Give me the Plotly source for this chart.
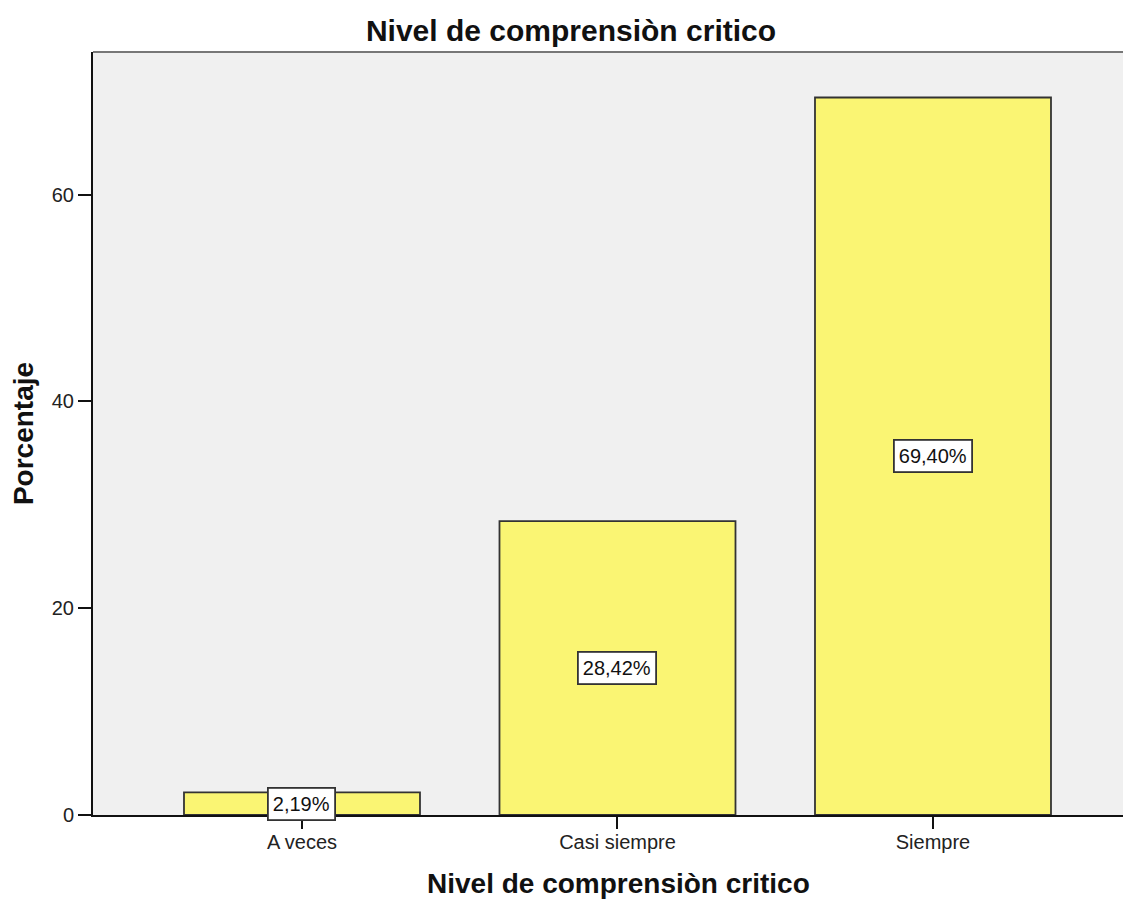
import plotly.graph_objects as go

categories = ["A veces", "Casi siempre", "Siempre"]
values = [2.19, 28.42, 69.40]
labels = ["2,19%", "28,42%", "69,40%"]
y_ticks = [0, 20, 40, 60]

FONT = "Liberation Sans, Arial, sans-serif"

fig = go.Figure()
fig.add_trace(go.Bar(
    x=[0, 1, 2], y=values, width=0.748,
    marker=dict(color="#FAF573", line=dict(color="#333333", width=1.8)),
    hoverinfo="skip",
))

for i, (v, lab) in enumerate(zip(values, labels)):
    fig.add_annotation(
        x=i, y=v / 2, text=lab, showarrow=False,
        font=dict(family=FONT, size=20, color="#111"),
        bgcolor="white", bordercolor="#333", borderwidth=1.8, borderpad=4,
    )

# top frame line
fig.add_shape(type="line", xref="paper", yref="paper", x0=0, x1=1, y0=1, y1=1,
              line=dict(color="#777", width=2))

# axis titles
fig.add_annotation(xref="paper", yref="paper", x=0.5058, y=-0.090,
                   xanchor="center", yanchor="middle", showarrow=False,
                   text="<b>Nivel de comprensiòn critico</b>",
                   font=dict(family=FONT, size=28, color="#111"))
fig.add_annotation(xref="paper", yref="paper", x=-0.0674, y=0.4993,
                   xanchor="center", yanchor="middle", showarrow=False, textangle=-90,
                   text="<b>Porcentaje</b>",
                   font=dict(family=FONT, size=28, color="#111"))

fig.update_layout(
    width=1123, height=891,
    margin=dict(l=85, r=0, t=44, b=84),
    paper_bgcolor="white", plot_bgcolor="#F0F0F0",
    showlegend=False,
    title=dict(text="<b>Nivel de comprensiòn critico</b>", x=563/1123, xanchor="center",
               y=1 - 22/891, yanchor="middle", yref="container",
               font=dict(family=FONT, size=30, color="#111")),
    font=dict(family=FONT, size=20, color="#222"),
    xaxis=dict(range=[-0.6624, 2.6276], tickmode="array", tickvals=[0, 1, 2], ticktext=categories,
               showgrid=False, zeroline=False, showline=True, linecolor="#111", linewidth=2,
               ticks="outside", ticklen=12, tickwidth=2, tickcolor="#111",
               ticklabelstandoff=-4,
               tickfont=dict(size=20, color="#222")),
    yaxis=dict(range=[0, 73.8], tickvals=y_ticks, showgrid=False, zeroline=False,
               showline=True, linecolor="#111", linewidth=2,
               ticks="outside", ticklen=13, tickwidth=2, tickcolor="#111",
               tickfont=dict(size=20, color="#222")),
)

fig.write_html("out.html")
